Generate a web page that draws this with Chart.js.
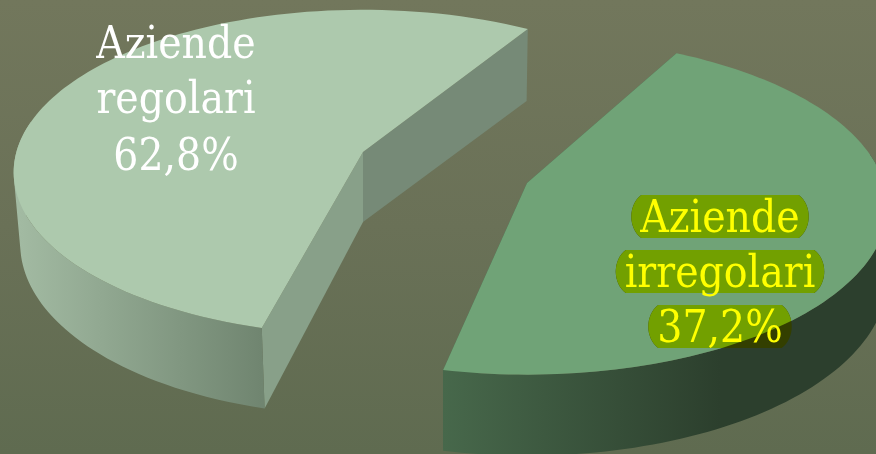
<!DOCTYPE html>
<html>
<head>
<meta charset="utf-8">
<title>Aziende</title>
<script src="https://cdn.jsdelivr.net/npm/chart.js@4"></script>
<style>
    html, body { margin: 0; padding: 0; width: 876px; height: 454px; overflow: hidden; }
    body { background: linear-gradient(180deg, #72775c 0%, #6a7157 50%, #5f6b50 100%); }
    #myChart { display: block; }
</style>
</head>
<body>
<canvas id="myChart" width="876" height="454"></canvas>
<script>
const categories = ["Aziende regolari", "Aziende irregolari"];
const values = [62.8, 37.2];
const labelLines = [["Aziende", "regolari", "62,8%"], ["Aziende", "irregolari", "37,2%"]];

const topColors = ["#adc9ad", "#70a377"];
const frontColors = ["#88a089", "#47684b"];
const backColors = ["#768a77", "#47684b"];
const rimColors = [["#a2baa2", "#708570"], ["#47684b", "#2c3f2d"]];
const textColors = ["#ffffff", "#ffff00"];

// how every exploded slice sits on the page
const views = [
    { x: 363, y: 152, a: 346.6, b: 160, k: 0.125, warp: 0.295, mid: 1, shrink: 0.985 },
    { x: 527, y: 183, a: 357, b: 165, k: 0.139, warp: 0.287, mid: 31.5, shrink: 1 }
];
const rimRange = [[20, 262], [443, 720]];
const labelBox = [{ x: 176, y: [58, 113, 170] }, { x: 720, y: [232, 287, 342] }];

const DEPTH = 70, FONT_STRETCH = 1.13;

function project(i, angle) {
    const view = views[i];
    const a = angle + view.warp * Math.sin(angle - view.mid * Math.PI / 180);
    const u = Math.cos(a), v = Math.sin(a);
    const w = 1 - view.k * v;
    return { x: view.x + view.a * u / w, y: view.y + view.b * v / w, v: v };
}

function below(i, p) {
    const d = p.v > 0 ? DEPTH + 11 * p.v : DEPTH + 2;
    return { x: 450 + (p.x - 450) * views[i].shrink, y: p.y + d };
}

function arcPoints(i, start, end) {
    const pts = [];
    for (let n = 0; n <= 120; n++) {
        pts.push(project(i, start + (end - start) * n / 120));
    }
    return pts;
}

function poly(ctx, pts) {
    ctx.beginPath();
    pts.forEach((p, n) => n ? ctx.lineTo(p.x, p.y) : ctx.moveTo(p.x, p.y));
    ctx.closePath();
}

function drawSlice(ctx, i, arc) {
    const pts = arcPoints(i, arc.startAngle, arc.endAngle);
    const first = pts[0], last = pts[pts.length - 1];
    const center = { x: views[i].x, y: views[i].y };
    const floor = { x: center.x, y: center.y + DEPTH };

    // the two cut faces
    ctx.fillStyle = frontColors[i];
    poly(ctx, [center, first, below(i, first), floor]);
    ctx.fill();
    ctx.fillStyle = backColors[i];
    poly(ctx, [center, last, below(i, last), floor]);
    ctx.fill();

    // outer rim: one path, every piece wound the same way so the fold at the far left stays filled
    const gradient = ctx.createLinearGradient(rimRange[i][0], 0, rimRange[i][1], 0);
    gradient.addColorStop(0, rimColors[i][0]);
    gradient.addColorStop(1, rimColors[i][1]);
    ctx.fillStyle = gradient;
    ctx.beginPath();
    for (let n = 0; n < pts.length - 1; n++) {
        if (pts[n].v < -0.2 || pts[n + 1].v < -0.2) continue;
        let quad = [pts[n], pts[n + 1], below(i, pts[n + 1]), below(i, pts[n])];
        let area = 0;
        quad.forEach((p, m) => {
            const q = quad[(m + 1) % 4];
            area += p.x * q.y - q.x * p.y;
        });
        if (area < 0) quad = quad.reverse();
        quad.forEach((p, m) => m ? ctx.lineTo(p.x, p.y) : ctx.moveTo(p.x, p.y));
        ctx.closePath();
    }
    ctx.fill();

    ctx.fillStyle = topColors[i];
    poly(ctx, [center].concat(pts));
    ctx.fill();
}

function pill(ctx, cx, baseline, width) {
    const top = baseline - 37, bottom = baseline + 6, inset = 10;
    const l = cx - width / 2, r = cx + width / 2;
    ctx.beginPath();
    ctx.moveTo(l + inset, top);
    ctx.lineTo(r - inset, top);
    ctx.bezierCurveTo(r + 3.3, top + 10, r + 3.3, bottom - 10, r - inset, bottom);
    ctx.lineTo(l + inset, bottom);
    ctx.bezierCurveTo(l - 3.3, bottom - 10, l - 3.3, top + 10, l + inset, top);
    ctx.closePath();
}

const pie3d = {
    id: "pie3d",
    beforeDatasetDraw(chart) {
        const ctx = chart.ctx;
        const arcs = chart.getDatasetMeta(0).data;
        ctx.save();
        arcs.forEach((arc, i) => drawSlice(ctx, i, arc));
        ctx.restore();
        return false;
    },
    afterDatasetsDraw(chart) {
        const ctx = chart.ctx;
        const arcs = chart.getDatasetMeta(0).data;
        ctx.save();
        ctx.font = "39.5px 'DejaVu Serif'";
        ctx.textAlign = "center";
        ctx.textBaseline = "alphabetic";
        labelLines.forEach((lines, i) => {
            const box = labelBox[i];
            if (i === 1) {
                lines.forEach((line, n) => {
                    const width = ctx.measureText(line).width + 18;
                    ctx.fillStyle = "#333f00";
                    pill(ctx, box.x, box.y[n], width);
                    ctx.fill();
                    // brighter where the highlight lies on the top of the slice
                    ctx.save();
                    poly(ctx, [{ x: views[i].x, y: views[i].y }].concat(arcPoints(i, arcs[i].startAngle, arcs[i].endAngle)));
                    ctx.clip();
                    ctx.fillStyle = "#72a000";
                    pill(ctx, box.x, box.y[n], width);
                    ctx.fill();
                    ctx.restore();
                });
            }
            ctx.fillStyle = textColors[i];
            lines.forEach((line, n) => {
                ctx.save();
                ctx.translate(box.x, box.y[n]);
                ctx.scale(1, FONT_STRETCH);
                ctx.fillText(line, 0, 0);
                ctx.restore();
            });
        });
        ctx.restore();
    }
};

new Chart(document.getElementById("myChart"), {
    type: "pie",
    data: {
        labels: categories,
        datasets: [{ data: values, backgroundColor: topColors, borderWidth: 0 }]
    },
    options: {
        responsive: false,
        animation: false,
        rotation: 178,
        plugins: { legend: { display: false }, tooltip: { enabled: false } }
    },
    plugins: [pie3d]
});
</script>
</body>
</html>
